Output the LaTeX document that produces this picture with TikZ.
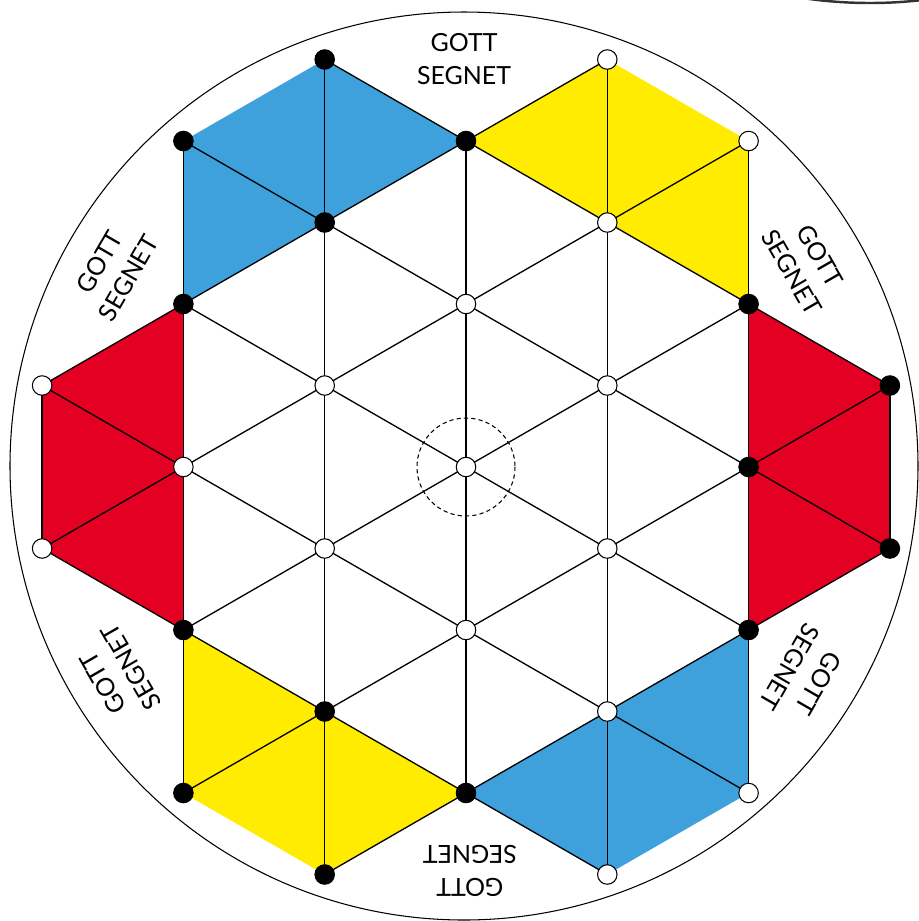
\documentclass[tikz,border=0pt]{standalone}
\usepackage{fontspec}
\setmainfont{Lato}
\definecolor{bblue}{RGB}{62,161,219}
\definecolor{byellow}{RGB}{255,236,0}
\definecolor{bred}{RGB}{227,0,35}
\tikzset{
  grid line/.style={draw=black,line width=0.75pt},
  dotbase/.style={circle,draw=black,line width=0.6pt,inner sep=0pt,minimum size=0.39cm},
  bdot/.style={dotbase,fill=black},
  wdot/.style={dotbase,fill=white},
  lbl/.style={font=\fontsize{14.2}{18.7}\selectfont,align=center,inner sep=0pt},
}
\begin{document}
\begin{tikzpicture}[x=0.02cm,y=-0.02cm]
\useasboundingbox (0,0) rectangle (919,921);
\clip (0,0) rectangle (919,921);
% lattice points
\foreach \i/\k in {-1/-5,-2/-4,0/-4,-1/-3,-2/-2,2/-2,3/-1,2/0,3/1,2/2,0/4,-1/3,-2/4,-1/5,-2/2,
                   1/-5,2/-4,1/-3,-3/-1,-2/0,-3/1,1/3,2/4,1/5,0/-2,-1/-1,1/-1,0/0,-1/1,1/1,0/2}
  \coordinate (P\i Q\k) at ({466+141.3*\i},{467+81.5*\k});
% outer circle
\node[circle,draw=black,line width=0.6pt,minimum size=908*0.02cm,inner sep=0pt] (rim) at (464,466) {};
\draw[line width=1.4pt,black!80] (870,-450) circle (453);
% coloured fields
\fill[bblue]   (P-2Q-4) -- (P-1Q-5) -- (P0Q-4) -- (P-2Q-2) -- cycle;
\fill[byellow] (P0Q-4) -- (P1Q-5) -- (P2Q-4) -- (P2Q-2) -- cycle;
\fill[bred]    (P2Q-2) -- (P3Q-1) -- (P3Q1) -- (P2Q2) -- cycle;
\fill[bblue]   (P2Q2) -- (P2Q4) -- (P1Q5) -- (P0Q4) -- cycle;
\fill[byellow] (P0Q4) -- (P-1Q5) -- (P-2Q4) -- (P-2Q2) -- cycle;
\fill[bred]    (P-2Q2) -- (P-3Q1) -- (P-3Q-1) -- (P-2Q-2) -- cycle;
% grid lines
\foreach \a/\b in {P-3Q-1/P-3Q1, P-2Q-4/P-2Q4, P-1Q-5/P-1Q5, P0Q-4/P0Q4, P1Q-5/P1Q5, P2Q-4/P2Q4, P3Q-1/P3Q1,
                   P-1Q-5/P3Q-1, P-2Q-4/P3Q1, P-2Q-2/P2Q2, P-3Q-1/P2Q4, P-3Q1/P1Q5,
                   P-3Q-1/P1Q-5, P-3Q1/P2Q-4, P-2Q2/P2Q-2, P-2Q4/P3Q-1, P-1Q5/P3Q1}
  \draw[grid line] (\a) -- (\b);
% centre ring
\draw[line width=0.6pt,dash pattern=on 2.4pt off 1.8pt] (P0Q0) circle (49);
% dots
\foreach \i/\k in {-1/-5,-2/-4,0/-4,-1/-3,-2/-2,2/-2,3/-1,2/0,3/1,2/2,0/4,-1/3,-2/4,-1/5,-2/2}
  \node[bdot] (B\i Q\k) at (P\i Q\k) {};
\foreach \i/\k in {1/-5,2/-4,1/-3,-3/-1,-2/0,-3/1,1/3,2/4,1/5,0/-2,-1/-1,1/-1,0/0,-1/1,1/1,0/2}
  \node[wdot] (W\i Q\k) at (P\i Q\k) {};
% labels
\node[lbl] (l1) at (464,59) {GOTT\\SEGNET};
\node[lbl,rotate=-60] (l2) at (806,264) {GOTT\\SEGNET};
\node[lbl,rotate=60] (l3) at (114,270) {GOTT\\SEGNET};
\node[lbl,rotate=120] (l4) at (117,675) {GOTT\\SEGNET};
\node[lbl,rotate=-120] (l5) at (804,675) {GOTT\\SEGNET};
\node[lbl,rotate=180] (l6) at (470,871) {GOTT\\SEGNET};
\end{tikzpicture}
\end{document}
